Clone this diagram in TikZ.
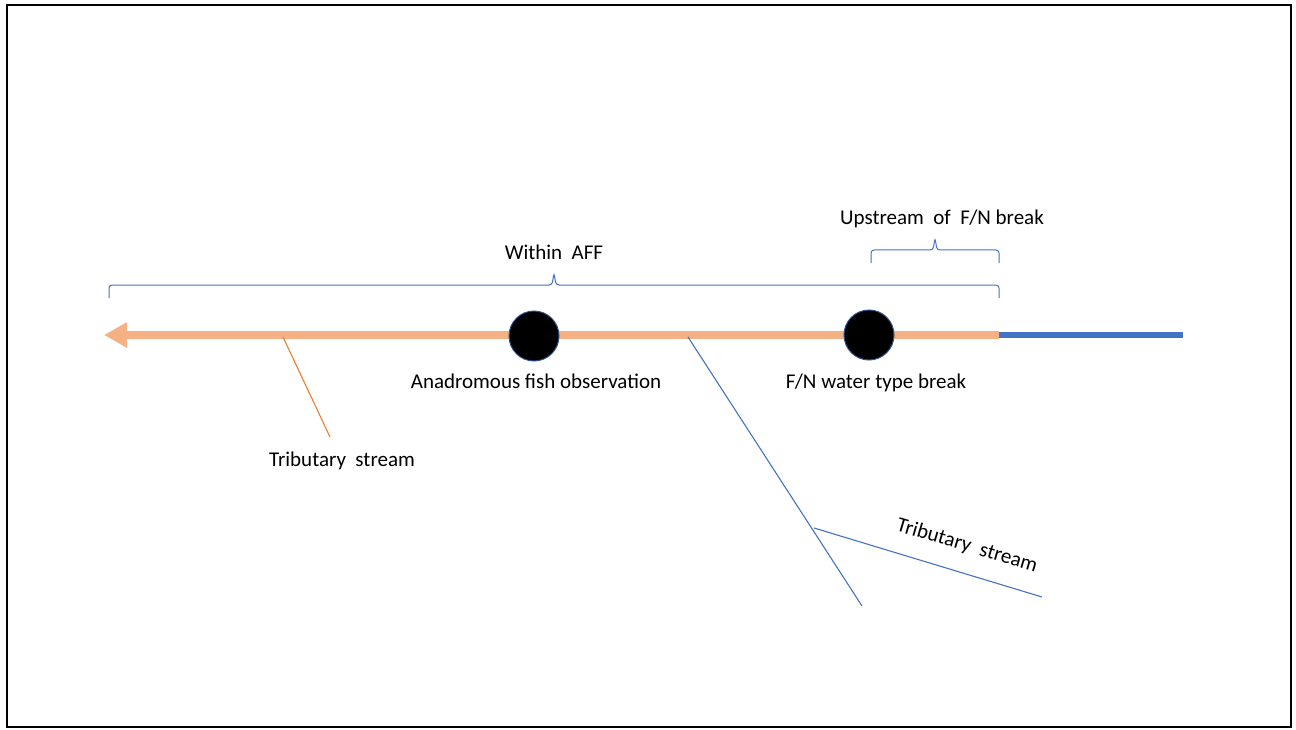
\documentclass[tikz,border=0pt]{standalone}
\usepackage{fontspec}
\setmainfont{Carlito}
\usetikzlibrary{arrows.meta}
\definecolor{streamorange}{HTML}{F4B183}
\definecolor{triborange}{HTML}{ED7D31}
\definecolor{streamblue}{HTML}{4472C4}
\definecolor{ringblue}{HTML}{2F528F}
\newcommand\widegap{\hspace{0.45em}}
\begin{document}
\begin{tikzpicture}[
    x=1pt, y=-1pt,
    river/.style={line width=8pt, draw=streamorange},
    fresh/.style={line width=6pt, draw=streamblue},
    trib/.style={line width=1.1pt},
    bracket/.style={draw=streamblue, line width=1pt, rounded corners=3pt},
    marker/.style={circle, fill=black, draw=ringblue, line width=1pt, minimum size=50pt, inner sep=0pt},
    lbl/.style={font=\fontsize{21}{25}\selectfont, inner sep=0pt}
]

\useasboundingbox (0,0) rectangle (1296,730);
\draw[line width=2pt] (7,5) rectangle (1291,727);

% main stream
\coordinate (mouth) at (104,335);
\coordinate (split) at (999,335);
\coordinate (head) at (1183,335);
\draw[fresh] (split) -- (head);
\draw[river, -{Triangle[length=23pt,width=24pt]}] (split) -- (mouth);

% tributaries
\coordinate (t1) at (283,337);
\coordinate (t1end) at (330,437);
\draw[trib, triborange] (t1) -- (t1end);
\coordinate (t2) at (688,337);
\coordinate (fork) at (814,528);
\coordinate (t2end) at (862,606);
\coordinate (t3end) at (1042,597);
\draw[trib, streamblue] (t2) -- (t2end);
\draw[trib, streamblue] (fork) -- (t3end);

% points on the stream
\node[marker] (obs) at (534,336) {};
\node[marker] (brk) at (869,335) {};

% brackets
\foreach \xa/\xb/\yb in {109/999/285, 871/999/250}{
  \pgfmathsetmacro\xm{(\xa+\xb)/2}
  \draw[bracket] (\xa,\yb+13) -- (\xa,\yb) -- (\xm-2,\yb) -- (\xm,\yb-12) -- (\xm+2,\yb) -- (\xb,\yb) -- (\xb,\yb+13);
}

% labels
\node[lbl] (aff) at (554,252) {Within\widegap AFF};
\node[lbl] (up) at (942,219) {Upstream\widegap of\widegap F/N break};
\node[lbl] (obslbl) at (536,381) {Anadromous fish observation};
\node[lbl] (brklbl) at (876,383) {F/N water type break};
\node[lbl] (t1lbl) at (342,461) {Tributary\widegap stream};
\node[lbl, rotate=-16.5] (t3lbl) at (967,546) {Tributary\widegap stream};

\end{tikzpicture}
\end{document}
